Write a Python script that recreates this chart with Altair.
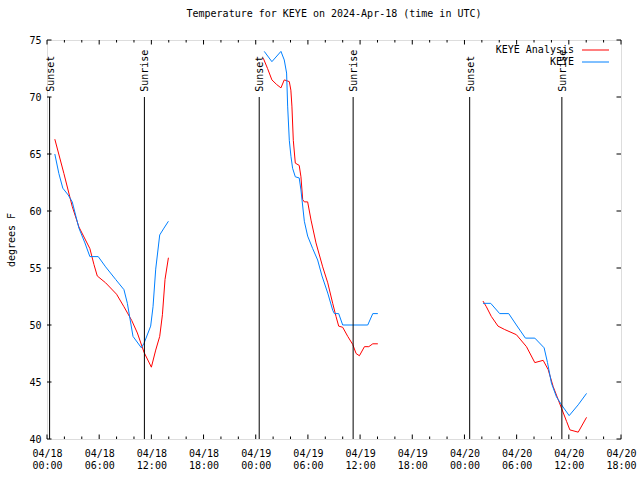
import altair as alt
import pandas as pd

# ---------------- data ----------------
series_names = ["KEYE Analysis", "KEYE"]
series_colors = ["#ff0000", "#0080ff"]

# hours since 2024-04-18 00:00 UTC, temperature in F
red1_h = [0.90, 1.94, 2.90, 3.67, 4.93, 5.40, 5.78, 6.74, 8.00, 8.85, 9.74, 10.39, 11.16, 12.00, 12.50, 12.96, 13.27, 13.57, 13.96]
red1_v = [66.3, 63.3, 60.4, 58.6, 56.7, 55.3, 54.3, 53.7, 52.7, 51.6, 50.4, 49.3, 47.6, 46.3, 47.8, 49.0, 50.9, 54.0, 55.9]

blue1_h = [0.90, 1.36, 1.82, 2.44, 2.90, 3.67, 4.36, 4.93, 5.89, 6.74, 7.89, 8.85, 9.24, 9.89, 10.85, 11.16, 11.92, 12.19, 12.50, 12.96, 13.45, 13.96]
blue1_v = [65.0, 63.3, 62.0, 61.4, 60.8, 58.5, 57.2, 56.0, 56.0, 55.1, 54.0, 53.1, 51.9, 49.0, 48.0, 48.4, 49.9, 51.6, 54.9, 57.9, 58.5, 59.1]

red2_h = [24.87, 25.36, 25.86, 26.40, 26.90, 27.28, 27.86, 28.04, 28.16, 28.32, 28.55, 29.00, 29.20, 29.40, 29.59, 29.97, 30.36, 30.93, 31.70, 32.28, 32.85, 33.23, 33.54, 34.00, 34.58, 35.15, 35.54, 35.92, 36.50, 37.00, 37.46, 38.04]
red2_v = [73.4, 72.5, 71.5, 71.1, 70.8, 71.5, 71.35, 70.6, 69.2, 66.2, 64.2, 64.0, 63.0, 61.0, 60.8, 60.8, 59.2, 57.2, 55.1, 53.7, 51.9, 50.75, 49.9, 49.8, 49.0, 48.3, 47.5, 47.3, 48.1, 48.1, 48.35, 48.35]

blue2_h = [24.98, 25.86, 26.90, 27.28, 27.55, 27.67, 27.86, 28.05, 28.24, 28.55, 29.00, 29.20, 29.59, 29.97, 30.55, 31.12, 31.62, 32.28, 32.85, 33.04, 33.54, 34.00, 36.88, 37.46, 38.04]
blue2_v = [74.0, 73.1, 74.0, 73.25, 72.1, 69.2, 66.2, 64.8, 63.75, 63.0, 62.9, 61.85, 59.1, 57.8, 56.7, 55.7, 54.3, 52.8, 51.3, 51.0, 51.0, 50.0, 50.0, 51.0, 51.0]

red3_h = [50.13, 50.52, 51.09, 51.86, 52.63, 53.97, 55.13, 56.09, 57.05, 57.62, 58.20, 58.78, 59.16, 59.74, 60.12, 61.08, 62.04]
red3_v = [52.1, 51.6, 50.75, 49.9, 49.6, 49.15, 48.1, 46.7, 46.9, 46.1, 44.6, 43.45, 42.7, 41.55, 40.8, 40.6, 41.9]

blue3_h = [50.13, 51.02, 52.05, 53.09, 53.97, 55.01, 56.09, 57.16, 57.55, 58.00, 58.58, 59.16, 60.04, 61.08, 62.04]
blue3_v = [51.9, 51.9, 51.0, 51.0, 50.0, 48.85, 48.85, 48.0, 46.7, 44.9, 43.7, 43.0, 42.05, 43.0, 44.0]

sun_hours = [0.3, 11.2, 24.4, 35.2, 48.6, 59.2]
sun_labels = ["Sunset", "Sunrise", "Sunset", "Sunrise", "Sunset", "Sunrise"]

x_major_ticks = [0, 6, 12, 18, 24, 30, 36, 42, 48, 54, 60, 66]
x_minor_ticks = [2, 4, 8, 10, 14, 16, 20, 22, 26, 28, 32, 34, 38, 40, 44, 46, 50, 52, 56, 58, 62, 64]
y_ticks = [40, 45, 50, 55, 60, 65, 70, 75]

# ---------------- tables ----------------
rows = []
segments = [
    (series_names[0], "r1", red1_h, red1_v),
    (series_names[1], "b1", blue1_h, blue1_v),
    (series_names[0], "r2", red2_h, red2_v),
    (series_names[1], "b2", blue2_h, blue2_v),
    (series_names[0], "r3", red3_h, red3_v),
    (series_names[1], "b3", blue3_h, blue3_v),
]
for name, seg, hs, vs in segments:
    for i, (h, v) in enumerate(zip(hs, vs)):
        rows.append({"series": name, "seg": seg, "hour": h, "temp": v, "order": i})
df = pd.DataFrame(rows)

sun_df = pd.DataFrame({"hour": sun_hours, "label": sun_labels,
                       "lo": [40] * len(sun_hours), "hi": [70] * len(sun_hours),
                       "txt": [70.45] * len(sun_hours)})

W, H = 574, 399
MONO = "DejaVu Sans Mono"

xscale = alt.Scale(domain=[0, 66], nice=False, zero=False)
yscale = alt.Scale(domain=[40, 75], nice=False, zero=False)

label_expr = ("['04/' + (18 + floor(datum.value/24)), "
              "(datum.value % 24 < 10 ? '0' : '') + (datum.value % 24) + ':00']")

base_x = alt.X("hour:Q", scale=xscale,
               axis=alt.Axis(values=x_major_ticks, labelExpr=label_expr, title=None,
                             ticks=False, grid=False, domain=False,
                             labelFont=MONO, labelFontSize=10, labelColor="black",
                             labelPadding=9, labelBaseline="top", labelLineHeight=12,
                             labelFlush=False, labelOverlap=False))
base_y = alt.Y("temp:Q", scale=yscale,
               axis=alt.Axis(values=y_ticks, title="degrees F", ticks=False, grid=False,
                             domain=False, labelFont=MONO, labelFontSize=10,
                             labelColor="black", labelPadding=6,
                             titleFont=MONO, titleFontSize=10, titleFontWeight="normal",
                             titleColor="black", titleX=-36, titleY=H / 2,
                             titleAngle=270, titleAlign="center", titleBaseline="middle"))

lines = alt.Chart(df).mark_line(strokeWidth=1, clip=True).encode(
    x=base_x,
    y=base_y,
    color=alt.Color("series:N", scale=alt.Scale(domain=series_names, range=series_colors),
                    legend=None),
    detail="seg:N",
    order="order:Q",
)

sun_rules = alt.Chart(sun_df).mark_rule(color="black", strokeWidth=1).encode(
    x=alt.X("hour:Q", scale=xscale),
    y=alt.Y("lo:Q", scale=yscale),
    y2="hi:Q",
)
sun_text = alt.Chart(sun_df).mark_text(angle=270, align="left", baseline="middle",
                                       font=MONO, fontSize=10, color="black", dx=0, dy=1).encode(
    x=alt.X("hour:Q", scale=xscale),
    y=alt.Y("txt:Q", scale=yscale),
    text="label:N",
)

# inward tick marks (gnuplot style), mirrored on all four sides
xmaj = pd.DataFrame({"hour": x_major_ticks})
xmin = pd.DataFrame({"hour": x_minor_ticks})
ydf = pd.DataFrame({"temp": y_ticks})
tick_layers = []
for d, L in ((xmaj, 4.5), (xmin, 2.5)):
    tick_layers.append(alt.Chart(d).mark_rule(color="black", strokeWidth=1).encode(
        x=alt.X("hour:Q", scale=xscale), y=alt.value(H), y2=alt.value(H - L)))
    tick_layers.append(alt.Chart(d).mark_rule(color="black", strokeWidth=1).encode(
        x=alt.X("hour:Q", scale=xscale), y=alt.value(0), y2=alt.value(L)))
tick_layers.append(alt.Chart(ydf).mark_rule(color="black", strokeWidth=1).encode(
    y=alt.Y("temp:Q", scale=yscale), x=alt.value(0), x2=alt.value(4.5)))
tick_layers.append(alt.Chart(ydf).mark_rule(color="black", strokeWidth=1).encode(
    y=alt.Y("temp:Q", scale=yscale), x=alt.value(W), x2=alt.value(W - 4.5)))

# manual gnuplot-style legend (text left of the line sample)
legend_layers = []
for i, (name, col) in enumerate(zip(series_names, series_colors)):
    ld = pd.DataFrame({"name": [name]})
    legend_layers.append(alt.Chart(ld).mark_text(align="right", baseline="middle",
                                                 font=MONO, fontSize=10, color="black").encode(
        text="name:N", x=alt.value(527), y=alt.value(10 + 12 * i)))
    legend_layers.append(alt.Chart(ld).mark_rule(color=col, strokeWidth=1).encode(
        x=alt.value(535), x2=alt.value(562), y=alt.value(10 + 12 * i)))

chart = alt.layer(lines, sun_rules, sun_text, *tick_layers, *legend_layers).properties(
    width=W, height=H,
    title=alt.TitleParams("Temperature for KEYE on 2024-Apr-18 (time in UTC)",
                          font=MONO, fontSize=10, fontWeight="normal", color="black",
                          anchor="middle", offset=16),
    autosize=alt.AutoSizeParams(type="none"),
    padding={"left": 47, "top": 40, "right": 19, "bottom": 41},
).configure_view(stroke="black", strokeWidth=1).configure(background="white")

chart.save("out.html", embed_options={"renderer": "svg", "actions": False})
